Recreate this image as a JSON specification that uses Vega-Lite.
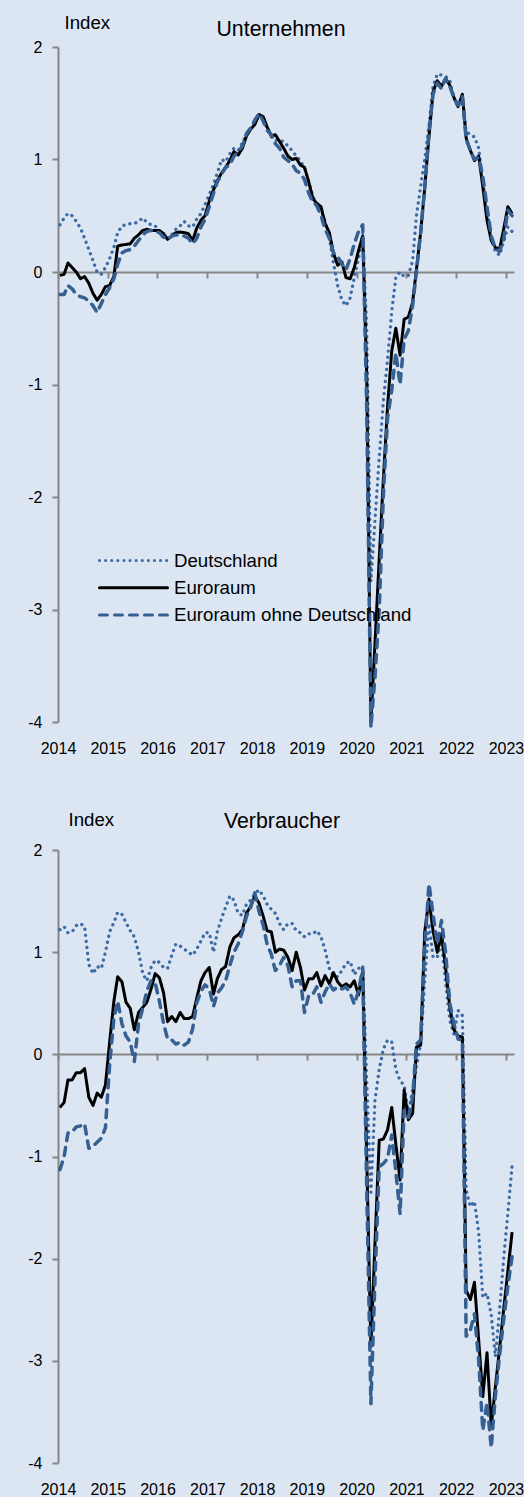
{
"$schema": "https://vega.github.io/schema/vega-lite/v6.json",
"background": "#dce6f2",
"padding": {"left": 27, "top": 13, "right": 0, "bottom": 0},
"config": {
  "font": "Liberation Sans",
  "view": {"stroke": null},
  "axis": {"grid": false, "domainColor": "#868686", "domainWidth": 2, "tickColor": "#868686", "tickWidth": 2, "tickSize": 6, "labelFontSize": 16, "labelColor": "#000000", "titleColor": "#000000", "titleFontWeight": "normal"},
  "title": {"fontSize": 21.3, "fontWeight": "normal", "color": "#000000"}
},
"spacing": 54,
"resolve": {"scale": {"color": "independent", "strokeDash": "independent"}},
"datasets": {
"u": [
{"d":"2014-01-15","s":"DE","v":0.42},{"d":"2014-02-15","s":"DE","v":0.48},{"d":"2014-03-15","s":"DE","v":0.52},{"d":"2014-04-15","s":"DE","v":0.50},{"d":"2014-05-15","s":"DE","v":0.45},{"d":"2014-06-15","s":"DE","v":0.39},{"d":"2014-07-15","s":"DE","v":0.30},{"d":"2014-08-15","s":"DE","v":0.20},{"d":"2014-09-15","s":"DE","v":0.10},{"d":"2014-10-15","s":"DE","v":0.00},{"d":"2014-11-15","s":"DE","v":-0.02},{"d":"2014-12-15","s":"DE","v":0.04},
{"d":"2015-01-15","s":"DE","v":0.12},{"d":"2015-02-15","s":"DE","v":0.22},{"d":"2015-03-15","s":"DE","v":0.35},{"d":"2015-04-15","s":"DE","v":0.41},{"d":"2015-05-15","s":"DE","v":0.42},{"d":"2015-06-15","s":"DE","v":0.43},{"d":"2015-07-15","s":"DE","v":0.43},{"d":"2015-08-15","s":"DE","v":0.45},{"d":"2015-09-15","s":"DE","v":0.48},{"d":"2015-10-15","s":"DE","v":0.44},{"d":"2015-11-15","s":"DE","v":0.42},{"d":"2015-12-15","s":"DE","v":0.41},
{"d":"2016-01-15","s":"DE","v":0.36},{"d":"2016-02-15","s":"DE","v":0.30},{"d":"2016-03-15","s":"DE","v":0.30},{"d":"2016-04-15","s":"DE","v":0.33},{"d":"2016-05-15","s":"DE","v":0.38},{"d":"2016-06-15","s":"DE","v":0.41},{"d":"2016-07-15","s":"DE","v":0.45},{"d":"2016-08-15","s":"DE","v":0.41},{"d":"2016-09-15","s":"DE","v":0.40},{"d":"2016-10-15","s":"DE","v":0.47},{"d":"2016-11-15","s":"DE","v":0.52},{"d":"2016-12-15","s":"DE","v":0.60},
{"d":"2017-01-15","s":"DE","v":0.69},{"d":"2017-02-15","s":"DE","v":0.78},{"d":"2017-03-15","s":"DE","v":0.88},{"d":"2017-04-15","s":"DE","v":1.00},{"d":"2017-05-15","s":"DE","v":0.98},{"d":"2017-06-15","s":"DE","v":1.05},{"d":"2017-07-15","s":"DE","v":1.10},{"d":"2017-08-15","s":"DE","v":1.08},{"d":"2017-09-15","s":"DE","v":1.15},{"d":"2017-10-15","s":"DE","v":1.22},{"d":"2017-11-15","s":"DE","v":1.28},{"d":"2017-12-15","s":"DE","v":1.33},
{"d":"2018-01-15","s":"DE","v":1.40},{"d":"2018-02-15","s":"DE","v":1.37},{"d":"2018-03-15","s":"DE","v":1.28},{"d":"2018-04-15","s":"DE","v":1.20},{"d":"2018-05-15","s":"DE","v":1.17},{"d":"2018-06-15","s":"DE","v":1.17},{"d":"2018-07-15","s":"DE","v":1.16},{"d":"2018-08-15","s":"DE","v":1.12},{"d":"2018-09-15","s":"DE","v":1.08},{"d":"2018-10-15","s":"DE","v":1.03},{"d":"2018-11-15","s":"DE","v":0.99},{"d":"2018-12-15","s":"DE","v":0.92},
{"d":"2019-01-15","s":"DE","v":0.80},{"d":"2019-02-15","s":"DE","v":0.67},{"d":"2019-03-15","s":"DE","v":0.60},{"d":"2019-04-15","s":"DE","v":0.55},{"d":"2019-05-15","s":"DE","v":0.45},{"d":"2019-06-15","s":"DE","v":0.30},{"d":"2019-07-15","s":"DE","v":0.08},{"d":"2019-08-15","s":"DE","v":-0.12},{"d":"2019-09-15","s":"DE","v":-0.25},{"d":"2019-10-15","s":"DE","v":-0.30},{"d":"2019-11-15","s":"DE","v":-0.23},{"d":"2019-12-15","s":"DE","v":-0.05},
{"d":"2020-01-15","s":"DE","v":0.12},{"d":"2020-02-15","s":"DE","v":0.35},{"d":"2020-03-15","s":"DE","v":-0.50},{"d":"2020-04-15","s":"DE","v":-2.75},{"d":"2020-05-15","s":"DE","v":-2.20},{"d":"2020-06-15","s":"DE","v":-1.65},{"d":"2020-07-15","s":"DE","v":-1.15},{"d":"2020-08-15","s":"DE","v":-0.78},{"d":"2020-09-15","s":"DE","v":-0.35},{"d":"2020-10-15","s":"DE","v":-0.05},{"d":"2020-11-15","s":"DE","v":0.00},{"d":"2020-12-15","s":"DE","v":-0.04},
{"d":"2021-01-15","s":"DE","v":-0.03},{"d":"2021-02-15","s":"DE","v":0.10},{"d":"2021-03-15","s":"DE","v":0.50},{"d":"2021-04-15","s":"DE","v":0.76},{"d":"2021-05-15","s":"DE","v":1.00},{"d":"2021-06-15","s":"DE","v":1.30},{"d":"2021-07-15","s":"DE","v":1.65},{"d":"2021-08-15","s":"DE","v":1.76},{"d":"2021-09-15","s":"DE","v":1.75},{"d":"2021-10-15","s":"DE","v":1.74},{"d":"2021-11-15","s":"DE","v":1.70},{"d":"2021-12-15","s":"DE","v":1.55},
{"d":"2022-01-15","s":"DE","v":1.47},{"d":"2022-02-15","s":"DE","v":1.55},{"d":"2022-03-15","s":"DE","v":1.25},{"d":"2022-04-15","s":"DE","v":1.22},{"d":"2022-05-15","s":"DE","v":1.20},{"d":"2022-06-15","s":"DE","v":1.10},{"d":"2022-07-15","s":"DE","v":0.80},{"d":"2022-08-15","s":"DE","v":0.55},{"d":"2022-09-15","s":"DE","v":0.30},{"d":"2022-10-15","s":"DE","v":0.18},{"d":"2022-11-15","s":"DE","v":0.15},{"d":"2022-12-15","s":"DE","v":0.27},
{"d":"2023-01-15","s":"DE","v":0.40},{"d":"2023-02-15","s":"DE","v":0.36},
{"d":"2014-01-15","s":"EA","v":-0.03},{"d":"2014-02-15","s":"EA","v":-0.02},{"d":"2014-03-15","s":"EA","v":0.08},{"d":"2014-04-15","s":"EA","v":0.04},{"d":"2014-05-15","s":"EA","v":0.00},{"d":"2014-06-15","s":"EA","v":-0.06},{"d":"2014-07-15","s":"EA","v":-0.04},{"d":"2014-08-15","s":"EA","v":-0.10},{"d":"2014-09-15","s":"EA","v":-0.19},{"d":"2014-10-15","s":"EA","v":-0.25},{"d":"2014-11-15","s":"EA","v":-0.20},{"d":"2014-12-15","s":"EA","v":-0.13},
{"d":"2015-01-15","s":"EA","v":-0.12},{"d":"2015-02-15","s":"EA","v":-0.04},{"d":"2015-03-15","s":"EA","v":0.23},{"d":"2015-04-15","s":"EA","v":0.24},{"d":"2015-05-15","s":"EA","v":0.245},{"d":"2015-06-15","s":"EA","v":0.25},{"d":"2015-07-15","s":"EA","v":0.30},{"d":"2015-08-15","s":"EA","v":0.33},{"d":"2015-09-15","s":"EA","v":0.37},{"d":"2015-10-15","s":"EA","v":0.38},{"d":"2015-11-15","s":"EA","v":0.37},{"d":"2015-12-15","s":"EA","v":0.37},
{"d":"2016-01-15","s":"EA","v":0.37},{"d":"2016-02-15","s":"EA","v":0.34},{"d":"2016-03-15","s":"EA","v":0.29},{"d":"2016-04-15","s":"EA","v":0.32},{"d":"2016-05-15","s":"EA","v":0.35},{"d":"2016-06-15","s":"EA","v":0.355},{"d":"2016-07-15","s":"EA","v":0.35},{"d":"2016-08-15","s":"EA","v":0.34},{"d":"2016-09-15","s":"EA","v":0.28},{"d":"2016-10-15","s":"EA","v":0.39},{"d":"2016-11-15","s":"EA","v":0.46},{"d":"2016-12-15","s":"EA","v":0.50},
{"d":"2017-01-15","s":"EA","v":0.63},{"d":"2017-02-15","s":"EA","v":0.73},{"d":"2017-03-15","s":"EA","v":0.81},{"d":"2017-04-15","s":"EA","v":0.88},{"d":"2017-05-15","s":"EA","v":0.93},{"d":"2017-06-15","s":"EA","v":0.99},{"d":"2017-07-15","s":"EA","v":1.07},{"d":"2017-08-15","s":"EA","v":1.04},{"d":"2017-09-15","s":"EA","v":1.10},{"d":"2017-10-15","s":"EA","v":1.21},{"d":"2017-11-15","s":"EA","v":1.27},{"d":"2017-12-15","s":"EA","v":1.31},
{"d":"2018-01-15","s":"EA","v":1.40},{"d":"2018-02-15","s":"EA","v":1.38},{"d":"2018-03-15","s":"EA","v":1.29},{"d":"2018-04-15","s":"EA","v":1.21},{"d":"2018-05-15","s":"EA","v":1.22},{"d":"2018-06-15","s":"EA","v":1.16},{"d":"2018-07-15","s":"EA","v":1.10},{"d":"2018-08-15","s":"EA","v":1.03},{"d":"2018-09-15","s":"EA","v":1.00},{"d":"2018-10-15","s":"EA","v":1.01},{"d":"2018-11-15","s":"EA","v":0.95},{"d":"2018-12-15","s":"EA","v":0.93},
{"d":"2019-01-15","s":"EA","v":0.80},{"d":"2019-02-15","s":"EA","v":0.65},{"d":"2019-03-15","s":"EA","v":0.61},{"d":"2019-04-15","s":"EA","v":0.58},{"d":"2019-05-15","s":"EA","v":0.43},{"d":"2019-06-15","s":"EA","v":0.35},{"d":"2019-07-15","s":"EA","v":0.17},{"d":"2019-08-15","s":"EA","v":0.06},{"d":"2019-09-15","s":"EA","v":0.09},{"d":"2019-10-15","s":"EA","v":-0.05},{"d":"2019-11-15","s":"EA","v":-0.06},{"d":"2019-12-15","s":"EA","v":0.04},
{"d":"2020-01-15","s":"EA","v":0.19},{"d":"2020-02-15","s":"EA","v":0.32},{"d":"2020-03-15","s":"EA","v":-0.90},{"d":"2020-04-15","s":"EA","v":-4.00},{"d":"2020-05-15","s":"EA","v":-3.30},{"d":"2020-06-15","s":"EA","v":-2.55},{"d":"2020-07-15","s":"EA","v":-1.85},{"d":"2020-08-15","s":"EA","v":-1.20},{"d":"2020-09-15","s":"EA","v":-0.70},{"d":"2020-10-15","s":"EA","v":-0.50},{"d":"2020-11-15","s":"EA","v":-0.74},{"d":"2020-12-15","s":"EA","v":-0.42},
{"d":"2021-01-15","s":"EA","v":-0.40},{"d":"2021-02-15","s":"EA","v":-0.27},{"d":"2021-03-15","s":"EA","v":0.02},{"d":"2021-04-15","s":"EA","v":0.35},{"d":"2021-05-15","s":"EA","v":0.75},{"d":"2021-06-15","s":"EA","v":1.20},{"d":"2021-07-15","s":"EA","v":1.60},{"d":"2021-08-15","s":"EA","v":1.70},{"d":"2021-09-15","s":"EA","v":1.65},{"d":"2021-10-15","s":"EA","v":1.72},{"d":"2021-11-15","s":"EA","v":1.66},{"d":"2021-12-15","s":"EA","v":1.55},
{"d":"2022-01-15","s":"EA","v":1.47},{"d":"2022-02-15","s":"EA","v":1.58},{"d":"2022-03-15","s":"EA","v":1.19},{"d":"2022-04-15","s":"EA","v":1.08},{"d":"2022-05-15","s":"EA","v":0.99},{"d":"2022-06-15","s":"EA","v":1.03},{"d":"2022-07-15","s":"EA","v":0.76},{"d":"2022-08-15","s":"EA","v":0.46},{"d":"2022-09-15","s":"EA","v":0.28},{"d":"2022-10-15","s":"EA","v":0.22},{"d":"2022-11-15","s":"EA","v":0.20},{"d":"2022-12-15","s":"EA","v":0.38},
{"d":"2023-01-15","s":"EA","v":0.58},{"d":"2023-02-15","s":"EA","v":0.52},
{"d":"2014-01-15","s":"EX","v":-0.20},{"d":"2014-02-15","s":"EX","v":-0.20},{"d":"2014-03-15","s":"EX","v":-0.12},{"d":"2014-04-15","s":"EX","v":-0.15},{"d":"2014-05-15","s":"EX","v":-0.20},{"d":"2014-06-15","s":"EX","v":-0.22},{"d":"2014-07-15","s":"EX","v":-0.23},{"d":"2014-08-15","s":"EX","v":-0.26},{"d":"2014-09-15","s":"EX","v":-0.30},{"d":"2014-10-15","s":"EX","v":-0.36},{"d":"2014-11-15","s":"EX","v":-0.28},{"d":"2014-12-15","s":"EX","v":-0.20},
{"d":"2015-01-15","s":"EX","v":-0.14},{"d":"2015-02-15","s":"EX","v":-0.06},{"d":"2015-03-15","s":"EX","v":0.07},{"d":"2015-04-15","s":"EX","v":0.17},{"d":"2015-05-15","s":"EX","v":0.19},{"d":"2015-06-15","s":"EX","v":0.20},{"d":"2015-07-15","s":"EX","v":0.23},{"d":"2015-08-15","s":"EX","v":0.28},{"d":"2015-09-15","s":"EX","v":0.33},{"d":"2015-10-15","s":"EX","v":0.36},{"d":"2015-11-15","s":"EX","v":0.37},{"d":"2015-12-15","s":"EX","v":0.36},
{"d":"2016-01-15","s":"EX","v":0.35},{"d":"2016-02-15","s":"EX","v":0.31},{"d":"2016-03-15","s":"EX","v":0.29},{"d":"2016-04-15","s":"EX","v":0.32},{"d":"2016-05-15","s":"EX","v":0.33},{"d":"2016-06-15","s":"EX","v":0.33},{"d":"2016-07-15","s":"EX","v":0.32},{"d":"2016-08-15","s":"EX","v":0.30},{"d":"2016-09-15","s":"EX","v":0.25},{"d":"2016-10-15","s":"EX","v":0.30},{"d":"2016-11-15","s":"EX","v":0.40},{"d":"2016-12-15","s":"EX","v":0.47},
{"d":"2017-01-15","s":"EX","v":0.58},{"d":"2017-02-15","s":"EX","v":0.70},{"d":"2017-03-15","s":"EX","v":0.80},{"d":"2017-04-15","s":"EX","v":0.87},{"d":"2017-05-15","s":"EX","v":0.93},{"d":"2017-06-15","s":"EX","v":0.95},{"d":"2017-07-15","s":"EX","v":1.03},{"d":"2017-08-15","s":"EX","v":1.07},{"d":"2017-09-15","s":"EX","v":1.12},{"d":"2017-10-15","s":"EX","v":1.23},{"d":"2017-11-15","s":"EX","v":1.28},{"d":"2017-12-15","s":"EX","v":1.35},
{"d":"2018-01-15","s":"EX","v":1.41},{"d":"2018-02-15","s":"EX","v":1.34},{"d":"2018-03-15","s":"EX","v":1.26},{"d":"2018-04-15","s":"EX","v":1.22},{"d":"2018-05-15","s":"EX","v":1.14},{"d":"2018-06-15","s":"EX","v":1.10},{"d":"2018-07-15","s":"EX","v":1.02},{"d":"2018-08-15","s":"EX","v":0.99},{"d":"2018-09-15","s":"EX","v":0.96},{"d":"2018-10-15","s":"EX","v":0.90},{"d":"2018-11-15","s":"EX","v":0.88},{"d":"2018-12-15","s":"EX","v":0.82},
{"d":"2019-01-15","s":"EX","v":0.70},{"d":"2019-02-15","s":"EX","v":0.62},{"d":"2019-03-15","s":"EX","v":0.59},{"d":"2019-04-15","s":"EX","v":0.50},{"d":"2019-05-15","s":"EX","v":0.38},{"d":"2019-06-15","s":"EX","v":0.30},{"d":"2019-07-15","s":"EX","v":0.17},{"d":"2019-08-15","s":"EX","v":0.14},{"d":"2019-09-15","s":"EX","v":0.07},{"d":"2019-10-15","s":"EX","v":0.02},{"d":"2019-11-15","s":"EX","v":0.12},{"d":"2019-12-15","s":"EX","v":0.25},
{"d":"2020-01-15","s":"EX","v":0.36},{"d":"2020-02-15","s":"EX","v":0.42},{"d":"2020-03-15","s":"EX","v":-1.20},{"d":"2020-04-15","s":"EX","v":-4.05},{"d":"2020-05-15","s":"EX","v":-3.60},{"d":"2020-06-15","s":"EX","v":-3.00},{"d":"2020-07-15","s":"EX","v":-2.00},{"d":"2020-08-15","s":"EX","v":-1.30},{"d":"2020-09-15","s":"EX","v":-1.05},{"d":"2020-10-15","s":"EX","v":-0.72},{"d":"2020-11-15","s":"EX","v":-1.00},{"d":"2020-12-15","s":"EX","v":-0.60},
{"d":"2021-01-15","s":"EX","v":-0.52},{"d":"2021-02-15","s":"EX","v":-0.30},{"d":"2021-03-15","s":"EX","v":0.00},{"d":"2021-04-15","s":"EX","v":0.35},{"d":"2021-05-15","s":"EX","v":0.75},{"d":"2021-06-15","s":"EX","v":1.25},{"d":"2021-07-15","s":"EX","v":1.58},{"d":"2021-08-15","s":"EX","v":1.68},{"d":"2021-09-15","s":"EX","v":1.63},{"d":"2021-10-15","s":"EX","v":1.72},{"d":"2021-11-15","s":"EX","v":1.65},{"d":"2021-12-15","s":"EX","v":1.55},
{"d":"2022-01-15","s":"EX","v":1.48},{"d":"2022-02-15","s":"EX","v":1.56},{"d":"2022-03-15","s":"EX","v":1.18},{"d":"2022-04-15","s":"EX","v":1.08},{"d":"2022-05-15","s":"EX","v":1.00},{"d":"2022-06-15","s":"EX","v":1.02},{"d":"2022-07-15","s":"EX","v":0.85},{"d":"2022-08-15","s":"EX","v":0.58},{"d":"2022-09-15","s":"EX","v":0.32},{"d":"2022-10-15","s":"EX","v":0.21},{"d":"2022-11-15","s":"EX","v":0.18},{"d":"2022-12-15","s":"EX","v":0.29},
{"d":"2023-01-15","s":"EX","v":0.55},{"d":"2023-02-15","s":"EX","v":0.50}
],
"v": [
{"d":"2014-01-15","s":"DE","v":1.22},{"d":"2014-02-15","s":"DE","v":1.25},{"d":"2014-03-15","s":"DE","v":1.19},{"d":"2014-04-15","s":"DE","v":1.20},{"d":"2014-05-15","s":"DE","v":1.26},{"d":"2014-06-15","s":"DE","v":1.28},{"d":"2014-07-15","s":"DE","v":1.25},{"d":"2014-08-15","s":"DE","v":0.88},{"d":"2014-09-15","s":"DE","v":0.79},{"d":"2014-10-15","s":"DE","v":0.86},{"d":"2014-11-15","s":"DE","v":0.84},{"d":"2014-12-15","s":"DE","v":1.00},
{"d":"2015-01-15","s":"DE","v":1.20},{"d":"2015-02-15","s":"DE","v":1.29},{"d":"2015-03-15","s":"DE","v":1.39},{"d":"2015-04-15","s":"DE","v":1.37},{"d":"2015-05-15","s":"DE","v":1.29},{"d":"2015-06-15","s":"DE","v":1.21},{"d":"2015-07-15","s":"DE","v":1.15},{"d":"2015-08-15","s":"DE","v":1.00},{"d":"2015-09-15","s":"DE","v":0.79},{"d":"2015-10-15","s":"DE","v":0.72},{"d":"2015-11-15","s":"DE","v":0.85},{"d":"2015-12-15","s":"DE","v":0.92},
{"d":"2016-01-15","s":"DE","v":0.90},{"d":"2016-02-15","s":"DE","v":0.85},{"d":"2016-03-15","s":"DE","v":0.84},{"d":"2016-04-15","s":"DE","v":0.97},{"d":"2016-05-15","s":"DE","v":1.08},{"d":"2016-06-15","s":"DE","v":1.06},{"d":"2016-07-15","s":"DE","v":1.03},{"d":"2016-08-15","s":"DE","v":1.00},{"d":"2016-09-15","s":"DE","v":0.97},{"d":"2016-10-15","s":"DE","v":1.03},{"d":"2016-11-15","s":"DE","v":1.11},{"d":"2016-12-15","s":"DE","v":1.19},
{"d":"2017-01-15","s":"DE","v":1.19},{"d":"2017-02-15","s":"DE","v":1.00},{"d":"2017-03-15","s":"DE","v":1.20},{"d":"2017-04-15","s":"DE","v":1.33},{"d":"2017-05-15","s":"DE","v":1.44},{"d":"2017-06-15","s":"DE","v":1.55},{"d":"2017-07-15","s":"DE","v":1.51},{"d":"2017-08-15","s":"DE","v":1.38},{"d":"2017-09-15","s":"DE","v":1.36},{"d":"2017-10-15","s":"DE","v":1.47},{"d":"2017-11-15","s":"DE","v":1.51},{"d":"2017-12-15","s":"DE","v":1.57},
{"d":"2018-01-15","s":"DE","v":1.61},{"d":"2018-02-15","s":"DE","v":1.55},{"d":"2018-03-15","s":"DE","v":1.47},{"d":"2018-04-15","s":"DE","v":1.42},{"d":"2018-05-15","s":"DE","v":1.38},{"d":"2018-06-15","s":"DE","v":1.28},{"d":"2018-07-15","s":"DE","v":1.22},{"d":"2018-08-15","s":"DE","v":1.28},{"d":"2018-09-15","s":"DE","v":1.28},{"d":"2018-10-15","s":"DE","v":1.21},{"d":"2018-11-15","s":"DE","v":1.19},{"d":"2018-12-15","s":"DE","v":1.15},
{"d":"2019-01-15","s":"DE","v":1.18},{"d":"2019-02-15","s":"DE","v":1.18},{"d":"2019-03-15","s":"DE","v":1.21},{"d":"2019-04-15","s":"DE","v":1.15},{"d":"2019-05-15","s":"DE","v":1.02},{"d":"2019-06-15","s":"DE","v":0.84},{"d":"2019-07-15","s":"DE","v":0.77},{"d":"2019-08-15","s":"DE","v":0.76},{"d":"2019-09-15","s":"DE","v":0.82},{"d":"2019-10-15","s":"DE","v":0.89},{"d":"2019-11-15","s":"DE","v":0.91},{"d":"2019-12-15","s":"DE","v":0.78},
{"d":"2020-01-15","s":"DE","v":0.84},{"d":"2020-02-15","s":"DE","v":0.87},{"d":"2020-03-15","s":"DE","v":-0.25},{"d":"2020-04-15","s":"DE","v":-1.35},{"d":"2020-05-15","s":"DE","v":-0.45},{"d":"2020-06-15","s":"DE","v":-0.15},{"d":"2020-07-15","s":"DE","v":0.05},{"d":"2020-08-15","s":"DE","v":0.14},{"d":"2020-09-15","s":"DE","v":0.12},{"d":"2020-10-15","s":"DE","v":-0.15},{"d":"2020-11-15","s":"DE","v":-0.26},{"d":"2020-12-15","s":"DE","v":-0.30},
{"d":"2021-01-15","s":"DE","v":-0.58},{"d":"2021-02-15","s":"DE","v":-0.35},{"d":"2021-03-15","s":"DE","v":-0.12},{"d":"2021-04-15","s":"DE","v":0.10},{"d":"2021-05-15","s":"DE","v":0.72},{"d":"2021-06-15","s":"DE","v":1.28},{"d":"2021-07-15","s":"DE","v":0.95},{"d":"2021-08-15","s":"DE","v":0.95},{"d":"2021-09-15","s":"DE","v":1.11},{"d":"2021-10-15","s":"DE","v":0.70},{"d":"2021-11-15","s":"DE","v":0.33},{"d":"2021-12-15","s":"DE","v":0.20},
{"d":"2022-01-15","s":"DE","v":0.43},{"d":"2022-02-15","s":"DE","v":0.38},{"d":"2022-03-15","s":"DE","v":-1.33},{"d":"2022-04-15","s":"DE","v":-1.49},{"d":"2022-05-15","s":"DE","v":-1.44},{"d":"2022-06-15","s":"DE","v":-1.75},{"d":"2022-07-15","s":"DE","v":-2.38},{"d":"2022-08-15","s":"DE","v":-2.34},{"d":"2022-09-15","s":"DE","v":-2.55},{"d":"2022-10-15","s":"DE","v":-2.96},{"d":"2022-11-15","s":"DE","v":-2.50},{"d":"2022-12-15","s":"DE","v":-2.00},
{"d":"2023-01-15","s":"DE","v":-1.55},{"d":"2023-02-15","s":"DE","v":-1.09},
{"d":"2014-01-15","s":"EA","v":-0.52},{"d":"2014-02-15","s":"EA","v":-0.47},{"d":"2014-03-15","s":"EA","v":-0.25},{"d":"2014-04-15","s":"EA","v":-0.25},{"d":"2014-05-15","s":"EA","v":-0.18},{"d":"2014-06-15","s":"EA","v":-0.18},{"d":"2014-07-15","s":"EA","v":-0.14},{"d":"2014-08-15","s":"EA","v":-0.42},{"d":"2014-09-15","s":"EA","v":-0.50},{"d":"2014-10-15","s":"EA","v":-0.38},{"d":"2014-11-15","s":"EA","v":-0.42},{"d":"2014-12-15","s":"EA","v":-0.30},
{"d":"2015-01-15","s":"EA","v":0.12},{"d":"2015-02-15","s":"EA","v":0.52},{"d":"2015-03-15","s":"EA","v":0.76},{"d":"2015-04-15","s":"EA","v":0.71},{"d":"2015-05-15","s":"EA","v":0.51},{"d":"2015-06-15","s":"EA","v":0.45},{"d":"2015-07-15","s":"EA","v":0.24},{"d":"2015-08-15","s":"EA","v":0.41},{"d":"2015-09-15","s":"EA","v":0.46},{"d":"2015-10-15","s":"EA","v":0.51},{"d":"2015-11-15","s":"EA","v":0.64},{"d":"2015-12-15","s":"EA","v":0.79},
{"d":"2016-01-15","s":"EA","v":0.75},{"d":"2016-02-15","s":"EA","v":0.60},{"d":"2016-03-15","s":"EA","v":0.32},{"d":"2016-04-15","s":"EA","v":0.37},{"d":"2016-05-15","s":"EA","v":0.32},{"d":"2016-06-15","s":"EA","v":0.41},{"d":"2016-07-15","s":"EA","v":0.35},{"d":"2016-08-15","s":"EA","v":0.35},{"d":"2016-09-15","s":"EA","v":0.37},{"d":"2016-10-15","s":"EA","v":0.55},{"d":"2016-11-15","s":"EA","v":0.72},{"d":"2016-12-15","s":"EA","v":0.80},
{"d":"2017-01-15","s":"EA","v":0.85},{"d":"2017-02-15","s":"EA","v":0.59},{"d":"2017-03-15","s":"EA","v":0.74},{"d":"2017-04-15","s":"EA","v":0.83},{"d":"2017-05-15","s":"EA","v":0.86},{"d":"2017-06-15","s":"EA","v":1.05},{"d":"2017-07-15","s":"EA","v":1.14},{"d":"2017-08-15","s":"EA","v":1.17},{"d":"2017-09-15","s":"EA","v":1.22},{"d":"2017-10-15","s":"EA","v":1.38},{"d":"2017-11-15","s":"EA","v":1.45},{"d":"2017-12-15","s":"EA","v":1.55},
{"d":"2018-01-15","s":"EA","v":1.48},{"d":"2018-02-15","s":"EA","v":1.35},{"d":"2018-03-15","s":"EA","v":1.21},{"d":"2018-04-15","s":"EA","v":1.20},{"d":"2018-05-15","s":"EA","v":1.00},{"d":"2018-06-15","s":"EA","v":1.03},{"d":"2018-07-15","s":"EA","v":1.02},{"d":"2018-08-15","s":"EA","v":0.95},{"d":"2018-09-15","s":"EA","v":0.82},{"d":"2018-10-15","s":"EA","v":1.00},{"d":"2018-11-15","s":"EA","v":0.85},{"d":"2018-12-15","s":"EA","v":0.63},
{"d":"2019-01-15","s":"EA","v":0.74},{"d":"2019-02-15","s":"EA","v":0.74},{"d":"2019-03-15","s":"EA","v":0.80},{"d":"2019-04-15","s":"EA","v":0.67},{"d":"2019-05-15","s":"EA","v":0.77},{"d":"2019-06-15","s":"EA","v":0.69},{"d":"2019-07-15","s":"EA","v":0.80},{"d":"2019-08-15","s":"EA","v":0.71},{"d":"2019-09-15","s":"EA","v":0.66},{"d":"2019-10-15","s":"EA","v":0.69},{"d":"2019-11-15","s":"EA","v":0.66},{"d":"2019-12-15","s":"EA","v":0.72},
{"d":"2020-01-15","s":"EA","v":0.58},{"d":"2020-02-15","s":"EA","v":0.82},{"d":"2020-03-15","s":"EA","v":-1.00},{"d":"2020-04-15","s":"EA","v":-2.86},{"d":"2020-05-15","s":"EA","v":-1.85},{"d":"2020-06-15","s":"EA","v":-0.84},{"d":"2020-07-15","s":"EA","v":-0.83},{"d":"2020-08-15","s":"EA","v":-0.74},{"d":"2020-09-15","s":"EA","v":-0.52},{"d":"2020-10-15","s":"EA","v":-0.88},{"d":"2020-11-15","s":"EA","v":-1.23},{"d":"2020-12-15","s":"EA","v":-0.35},
{"d":"2021-01-15","s":"EA","v":-0.64},{"d":"2021-02-15","s":"EA","v":-0.58},{"d":"2021-03-15","s":"EA","v":0.07},{"d":"2021-04-15","s":"EA","v":0.09},{"d":"2021-05-15","s":"EA","v":1.20},{"d":"2021-06-15","s":"EA","v":1.52},{"d":"2021-07-15","s":"EA","v":1.21},{"d":"2021-08-15","s":"EA","v":1.00},{"d":"2021-09-15","s":"EA","v":1.18},{"d":"2021-10-15","s":"EA","v":0.85},{"d":"2021-11-15","s":"EA","v":0.46},{"d":"2021-12-15","s":"EA","v":0.24},
{"d":"2022-01-15","s":"EA","v":0.18},{"d":"2022-02-15","s":"EA","v":0.17},{"d":"2022-03-15","s":"EA","v":-2.31},{"d":"2022-04-15","s":"EA","v":-2.40},{"d":"2022-05-15","s":"EA","v":-2.23},{"d":"2022-06-15","s":"EA","v":-2.80},{"d":"2022-07-15","s":"EA","v":-3.35},{"d":"2022-08-15","s":"EA","v":-2.92},{"d":"2022-09-15","s":"EA","v":-3.64},{"d":"2022-10-15","s":"EA","v":-3.26},{"d":"2022-11-15","s":"EA","v":-2.88},{"d":"2022-12-15","s":"EA","v":-2.50},
{"d":"2023-01-15","s":"EA","v":-2.12},{"d":"2023-02-15","s":"EA","v":-1.74},
{"d":"2014-01-15","s":"EX","v":-1.13},{"d":"2014-02-15","s":"EX","v":-1.00},{"d":"2014-03-15","s":"EX","v":-0.77},{"d":"2014-04-15","s":"EX","v":-0.76},{"d":"2014-05-15","s":"EX","v":-0.71},{"d":"2014-06-15","s":"EX","v":-0.70},{"d":"2014-07-15","s":"EX","v":-0.68},{"d":"2014-08-15","s":"EX","v":-0.92},{"d":"2014-09-15","s":"EX","v":-0.90},{"d":"2014-10-15","s":"EX","v":-0.86},{"d":"2014-11-15","s":"EX","v":-0.82},{"d":"2014-12-15","s":"EX","v":-0.72},
{"d":"2015-01-15","s":"EX","v":-0.10},{"d":"2015-02-15","s":"EX","v":0.35},{"d":"2015-03-15","s":"EX","v":0.52},{"d":"2015-04-15","s":"EX","v":0.30},{"d":"2015-05-15","s":"EX","v":0.18},{"d":"2015-06-15","s":"EX","v":0.12},{"d":"2015-07-15","s":"EX","v":-0.07},{"d":"2015-08-15","s":"EX","v":0.30},{"d":"2015-09-15","s":"EX","v":0.45},{"d":"2015-10-15","s":"EX","v":0.62},{"d":"2015-11-15","s":"EX","v":0.72},{"d":"2015-12-15","s":"EX","v":0.70},
{"d":"2016-01-15","s":"EX","v":0.52},{"d":"2016-02-15","s":"EX","v":0.30},{"d":"2016-03-15","s":"EX","v":0.15},{"d":"2016-04-15","s":"EX","v":0.14},{"d":"2016-05-15","s":"EX","v":0.10},{"d":"2016-06-15","s":"EX","v":0.12},{"d":"2016-07-15","s":"EX","v":0.09},{"d":"2016-08-15","s":"EX","v":0.12},{"d":"2016-09-15","s":"EX","v":0.25},{"d":"2016-10-15","s":"EX","v":0.50},{"d":"2016-11-15","s":"EX","v":0.62},{"d":"2016-12-15","s":"EX","v":0.68},
{"d":"2017-01-15","s":"EX","v":0.64},{"d":"2017-02-15","s":"EX","v":0.47},{"d":"2017-03-15","s":"EX","v":0.60},{"d":"2017-04-15","s":"EX","v":0.65},{"d":"2017-05-15","s":"EX","v":0.72},{"d":"2017-06-15","s":"EX","v":0.87},{"d":"2017-07-15","s":"EX","v":1.00},{"d":"2017-08-15","s":"EX","v":1.08},{"d":"2017-09-15","s":"EX","v":1.20},{"d":"2017-10-15","s":"EX","v":1.35},{"d":"2017-11-15","s":"EX","v":1.44},{"d":"2017-12-15","s":"EX","v":1.58},
{"d":"2018-01-15","s":"EX","v":1.40},{"d":"2018-02-15","s":"EX","v":1.26},{"d":"2018-03-15","s":"EX","v":1.08},{"d":"2018-04-15","s":"EX","v":0.98},{"d":"2018-05-15","s":"EX","v":0.82},{"d":"2018-06-15","s":"EX","v":0.87},{"d":"2018-07-15","s":"EX","v":0.95},{"d":"2018-08-15","s":"EX","v":0.87},{"d":"2018-09-15","s":"EX","v":0.66},{"d":"2018-10-15","s":"EX","v":0.72},{"d":"2018-11-15","s":"EX","v":0.72},{"d":"2018-12-15","s":"EX","v":0.41},
{"d":"2019-01-15","s":"EX","v":0.58},{"d":"2019-02-15","s":"EX","v":0.59},{"d":"2019-03-15","s":"EX","v":0.66},{"d":"2019-04-15","s":"EX","v":0.51},{"d":"2019-05-15","s":"EX","v":0.61},{"d":"2019-06-15","s":"EX","v":0.69},{"d":"2019-07-15","s":"EX","v":0.63},{"d":"2019-08-15","s":"EX","v":0.66},{"d":"2019-09-15","s":"EX","v":0.64},{"d":"2019-10-15","s":"EX","v":0.66},{"d":"2019-11-15","s":"EX","v":0.60},{"d":"2019-12-15","s":"EX","v":0.49},
{"d":"2020-01-15","s":"EX","v":0.62},{"d":"2020-02-15","s":"EX","v":0.84},{"d":"2020-03-15","s":"EX","v":-1.30},{"d":"2020-04-15","s":"EX","v":-3.42},{"d":"2020-05-15","s":"EX","v":-2.20},{"d":"2020-06-15","s":"EX","v":-1.10},{"d":"2020-07-15","s":"EX","v":-1.07},{"d":"2020-08-15","s":"EX","v":-1.02},{"d":"2020-09-15","s":"EX","v":-0.79},{"d":"2020-10-15","s":"EX","v":-1.15},{"d":"2020-11-15","s":"EX","v":-1.56},{"d":"2020-12-15","s":"EX","v":-0.55},
{"d":"2021-01-15","s":"EX","v":-0.62},{"d":"2021-02-15","s":"EX","v":-0.42},{"d":"2021-03-15","s":"EX","v":0.10},{"d":"2021-04-15","s":"EX","v":0.14},{"d":"2021-05-15","s":"EX","v":1.05},{"d":"2021-06-15","s":"EX","v":1.67},{"d":"2021-07-15","s":"EX","v":1.37},{"d":"2021-08-15","s":"EX","v":1.08},{"d":"2021-09-15","s":"EX","v":1.31},{"d":"2021-10-15","s":"EX","v":1.00},{"d":"2021-11-15","s":"EX","v":0.50},{"d":"2021-12-15","s":"EX","v":0.30},
{"d":"2022-01-15","s":"EX","v":0.15},{"d":"2022-02-15","s":"EX","v":0.14},{"d":"2022-03-15","s":"EX","v":-2.76},{"d":"2022-04-15","s":"EX","v":-2.70},{"d":"2022-05-15","s":"EX","v":-2.54},{"d":"2022-06-15","s":"EX","v":-3.00},{"d":"2022-07-15","s":"EX","v":-3.68},{"d":"2022-08-15","s":"EX","v":-3.41},{"d":"2022-09-15","s":"EX","v":-3.85},{"d":"2022-10-15","s":"EX","v":-3.35},{"d":"2022-11-15","s":"EX","v":-2.95},{"d":"2022-12-15","s":"EX","v":-2.60},
{"d":"2023-01-15","s":"EX","v":-2.27},{"d":"2023-02-15","s":"EX","v":-1.98}
]
},
"vconcat": [
{
  "width": 456, "height": 675,
  "data": {"name": "u"},
  "title": {"text": "Unternehmen", "anchor": "middle", "baseline": "alphabetic", "offset": 0, "dx": -5, "dy": 44},
  "encoding": {
    "x": {"field": "d", "type": "temporal",
      "scale": {"type": "utc", "domain": [{"year":2014,"month":1,"date":1,"utc":true},{"year":2023,"month":3,"date":1,"utc":true}]},
      "axis": {"title": null, "values": [{"year":2014,"utc":true},{"year":2015,"utc":true},{"year":2016,"utc":true},{"year":2017,"utc":true},{"year":2018,"utc":true},{"year":2019,"utc":true},{"year":2020,"utc":true},{"year":2021,"utc":true},{"year":2022,"utc":true},{"year":2023,"utc":true}],
        "format": "%Y", "formatType": "utc", "offset": -450, "labelPadding": 462, "labelFlush": false, "labelOverlap": false, "labelBound": false}},
    "y": {"field": "v", "type": "quantitative",
      "scale": {"domain": [-4, 2], "nice": false, "zero": false},
      "axis": {"values": [-4,-3,-2,-1,0,1,2], "labelExpr": "'' + datum.value", "labelPadding": 10,
        "title": "Index", "titleAngle": 0, "titleAlign": "left", "titleBaseline": "alphabetic", "titleX": 6, "titleY": -19, "titleFontSize": 18.67}},
    "color": {"field": "s", "type": "nominal",
      "scale": {"domain": ["DE","EA","EX"], "range": ["#3c6aa5","#000000","#366092"]},
      "legend": {"title": null, "orient": "none", "legendX": 65, "legendY": 503, "padding": 0, "symbolType": "M-3.78,0H3.78", "symbolSize": 324, "symbolStrokeWidth": 3, "labelFontSize": 18.67, "labelColor": "#000000", "labelOffset": 30, "labelLimit": 400, "rowPadding": 6.3,
        "labelExpr": "datum.label == 'DE' ? 'Deutschland' : datum.label == 'EA' ? 'Euroraum' : 'Euroraum ohne Deutschland'",
        "encode": {"symbols": {"update": {"strokeCap": {"value": "round"}}}}}},
    "strokeDash": {"field": "s", "type": "nominal",
      "scale": {"domain": ["DE","EA","EX"], "range": [[0.1,6],[1,0],[8,7]]},
      "legend": {"title": null, "orient": "none", "legendX": 65, "legendY": 503, "padding": 0, "symbolType": "M-3.78,0H3.78", "symbolSize": 324, "symbolStrokeWidth": 3, "labelFontSize": 18.67, "labelColor": "#000000", "labelOffset": 30, "labelLimit": 400, "rowPadding": 6.3,
        "labelExpr": "datum.label == 'DE' ? 'Deutschland' : datum.label == 'EA' ? 'Euroraum' : 'Euroraum ohne Deutschland'",
        "encode": {"symbols": {"update": {"strokeCap": {"value": "round"}}}}}}
  },
  "layer": [
    {"transform": [{"filter": "datum.s == 'DE'"}], "mark": {"type": "line", "strokeWidth": 3.3, "strokeCap": "round", "strokeJoin": "round"}},
    {"transform": [{"filter": "datum.s == 'EA'"}], "mark": {"type": "line", "strokeWidth": 3, "strokeJoin": "round"}},
    {"transform": [{"filter": "datum.s == 'EX'"}], "mark": {"type": "line", "strokeWidth": 3.5, "strokeCap": "round", "strokeJoin": "round"}}
  ]
},
{
  "width": 456, "height": 613,
  "data": {"name": "v"},
  "title": {"text": "Verbraucher", "anchor": "middle", "baseline": "alphabetic", "offset": 0, "dx": -4, "dy": 39},
  "encoding": {
    "x": {"field": "d", "type": "temporal",
      "scale": {"type": "utc", "domain": [{"year":2014,"month":1,"date":1,"utc":true},{"year":2023,"month":3,"date":1,"utc":true}]},
      "axis": {"title": null, "values": [{"year":2014,"utc":true},{"year":2015,"utc":true},{"year":2016,"utc":true},{"year":2017,"utc":true},{"year":2018,"utc":true},{"year":2019,"utc":true},{"year":2020,"utc":true},{"year":2021,"utc":true},{"year":2022,"utc":true},{"year":2023,"utc":true}],
        "format": "%Y", "formatType": "utc", "offset": -409, "labelPadding": 421, "labelFlush": false, "labelOverlap": false, "labelBound": false}},
    "y": {"field": "v", "type": "quantitative",
      "scale": {"domain": [-4, 2], "nice": false, "zero": false},
      "axis": {"values": [-4,-3,-2,-1,0,1,2], "labelExpr": "'' + datum.value", "labelPadding": 10,
        "title": "Index", "titleAngle": 0, "titleAlign": "left", "titleBaseline": "alphabetic", "titleX": 10, "titleY": -25, "titleFontSize": 18.67}},
    "color": {"field": "s", "type": "nominal",
      "scale": {"domain": ["DE","EA","EX"], "range": ["#3c6aa5","#000000","#366092"]}, "legend": null},
    "strokeDash": {"field": "s", "type": "nominal",
      "scale": {"domain": ["DE","EA","EX"], "range": [[0.1,6],[1,0],[8,7]]}, "legend": null}
  },
  "layer": [
    {"transform": [{"filter": "datum.s == 'DE'"}], "mark": {"type": "line", "strokeWidth": 3.3, "strokeCap": "round", "strokeJoin": "round"}},
    {"transform": [{"filter": "datum.s == 'EA'"}], "mark": {"type": "line", "strokeWidth": 3, "strokeJoin": "round"}},
    {"transform": [{"filter": "datum.s == 'EX'"}], "mark": {"type": "line", "strokeWidth": 3.5, "strokeCap": "round", "strokeJoin": "round"}}
  ]
}
]
}
